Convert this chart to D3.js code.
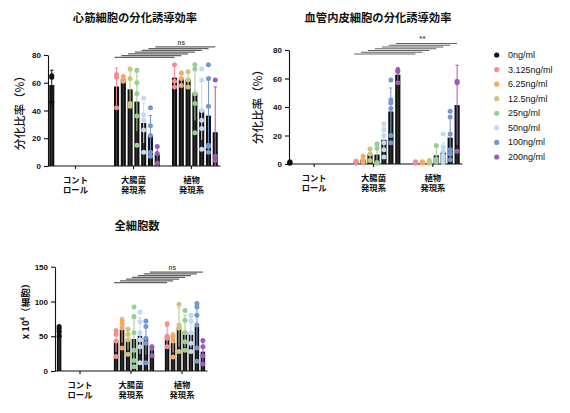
<!DOCTYPE html>
<html>
<head>
<meta charset="utf-8">
<script src="https://cdn.jsdelivr.net/npm/d3@7"></script>
<style>
  body { margin: 0; background: #fff; }
  svg { display: block; font-family: "Liberation Sans", Arial, sans-serif; }
  .jp { font-family: "Noto Sans CJK JP", "Noto Sans", sans-serif; }
</style>
</head>
<body>
<svg id="chart" width="570" height="413"></svg>
<script>
// concentrations (legend order) and their colours
const concs = ["0ng/ml", "3.125ng/ml", "6.25ng/ml", "12.5ng/ml", "25ng/ml", "50ng/ml", "100ng/ml", "200ng/ml"];
const concColors = ["#111111", "#F28E92", "#F7A866", "#C9C47E", "#95D192", "#C2D8F4", "#7397CF", "#9C5DB8"];

// x categories
const groupIds = ["control", "ecoli", "plant"];
const groupLabels = [["コント", "ロール"], ["大腸菌", "発現系"], ["植物", "発現系"]];

// 心筋細胞の分化誘導効率 (%) : individual points, control = 0ng/ml, others = 3.125 .. 200ng/ml
const cardioControl = [[65, 64, 46]];
const cardioEcoli = [[66, 64, 42], [64.5, 62, 61], [70, 63, 45, 43], [69, 60, 52, 36, 15],
  [49, 37, 33, 26, 10], [42, 29, 22, 10, 7], [14, 9, 2]];
const cardioPlant = [[73, 61, 57], [67, 63, 58], [68, 62, 57], [73, 70, 52, 45, 24],
  [70, 62, 40, 33, 27, 12], [73, 63, 43, 15, 14, 10], [62, 7, 4]];

// 血管内皮細胞の分化誘導効率 (%)
const endoControl = [[1.5, 1, 0.5]];
const endoEcoli = [[2, 1.5, 0.5], [5.5, 3, 1], [10.5, 7, 2.5], [14, 11, 1, 0.5],
  [28, 24, 20, 15, 10, 5], [59, 45, 43, 39, 20, 15], [66, 65, 57]];
const endoPlant = [[1.5, 1, 0.5], [1.5, 1, 0.5], [2.5, 1.5, 0.5], [13, 3.5, 1.5],
  [21, 12, 9, 6, 5, 3, 1], [37, 33, 21, 10, 7, 3], [58, 57, 9]];

// 全細胞数 (x 10^4)
const totalControl = [[64, 61, 57, 50]];
const totalEcoli = [[58, 53, 43, 21], [73, 68, 62, 33], [60, 53, 45, 24], [92, 78, 55, 30, 15, 6],
  [85, 71, 55, 45, 35, 12], [72, 64, 47, 40, 12], [35, 33, 22]];
const totalPlant = [[68, 50, 47, 35], [51, 49, 43, 20], [96, 66, 62, 28], [87, 73, 55, 42, 30],
  [80, 72, 55, 40, 28], [97, 92, 80, 66, 33, 14], [44, 35, 22, 10]];

const cardioTicks = [0, 20, 40, 60, 80];
const endoTicks = [0, 20, 40, 60, 80];
const totalTicks = [0, 50, 100, 150];

const svg = d3.select("#chart");

const panels = [
  {
    title: "心筋細胞の分化誘導効率", titleX: 135, titleY: 22,
    yLabel: "分化比率（%）", yLabelX: 21, yLabelY: 110,
    yAxisX: 48, xRange: [46.5, 220.5], yRange: [166, 55], yMax: 80, ticks: cardioTicks,
    series: [cardioControl, cardioEcoli, cardioPlant], sigAt: 78.3, sigText: "ns"
  },
  {
    title: "血管内皮細胞の分化誘導効率", titleX: 378, titleY: 22,
    yLabel: "分化比率（%）", yLabelX: 259, yLabelY: 104,
    yAxisX: 289, xRange: [284.5, 462.5], yRange: [164, 50], yMax: 80, ticks: endoTicks,
    series: [endoControl, endoEcoli, endoPlant], sigAt: 77.2, sigText: "**"
  },
  {
    title: "全細胞数", titleX: 137, titleY: 230,
    yLabel: null, yLabelX: 26, yLabelY: 309,
    yAxisX: 55, xRange: [54.5, 207.5], yRange: [371, 266.7], yMax: 150, ticks: totalTicks,
    series: [totalControl, totalEcoli, totalPlant], sigAt: 127, sigText: "ns"
  }
];

panels.forEach(drawPanel);
drawLegend();

function drawPanel(p) {
  const g = svg.append("g");

  const x0 = d3.scaleBand().domain(groupIds).range(p.xRange);
  const x1 = d3.scaleBand().domain(concs).range([0, x0.bandwidth()])
    .paddingInner(0.25).paddingOuter(0.4);
  const y = d3.scaleLinear().domain([0, p.yMax]).range(p.yRange);
  const xPos = (gi, ci) => x0(groupIds[gi]) + x1(concs[ci]) + x1.bandwidth() / 2;
  const bw = x1.bandwidth();

  // one record per bar
  const recs = [];
  p.series.forEach((groupData, gi) => {
    groupData.forEach((pts, k) => {
      const ci = gi === 0 ? k : k + 1;
      recs.push({ gi, ci, pts, mean: d3.mean(pts), sd: d3.deviation(pts) || 0 });
    });
  });

  // axes
  const yAxis = g.append("g")
    .attr("transform", `translate(${p.yAxisX},0)`)
    .call(d3.axisLeft(y).tickValues(p.ticks).tickSize(4).tickSizeOuter(0).tickPadding(3));
  yAxis.selectAll("text")
    .attr("font-size", 8).attr("font-weight", "bold")
    .attr("font-family", "'Liberation Sans', Arial, sans-serif").attr("fill", "#111");
  yAxis.selectAll("line, path").attr("stroke", "#111").attr("stroke-width", 1.1);

  const xAxis = g.append("g")
    .attr("transform", `translate(0,${y(0)})`)
    .call(d3.axisBottom(x0).tickSize(3).tickFormat(""));
  xAxis.select(".domain").attr("d", `M${p.yAxisX},0H${p.xRange[1]}`);
  xAxis.selectAll("line, path").attr("stroke", "#111").attr("stroke-width", 1.1);

  // category labels, two lines each
  const lab = g.append("g").attr("class", "jp");
  groupIds.forEach((id, gi) => {
    const t = lab.append("text")
      .attr("x", x0(id) + x0.bandwidth() / 2)
      .attr("text-anchor", "middle")
      .attr("font-size", 8.3).attr("font-weight", "bold").attr("fill", "#111");
    groupLabels[gi].forEach((line, li) => {
      t.append("tspan")
        .attr("x", x0(id) + x0.bandwidth() / 2)
        .attr("y", y(0) + 16.8 + li * 10.6)
        .text(line);
    });
  });

  // bars
  g.selectAll("rect.bar").data(recs).enter().append("rect")
    .attr("class", "bar")
    .attr("x", d => xPos(d.gi, d.ci) - bw / 2)
    .attr("y", d => y(d.mean))
    .attr("width", bw)
    .attr("height", d => y(0) - y(d.mean))
    .attr("fill", "#111");

  g.selectAll("line.core").data(recs).enter().append("line")
    .attr("class", "core")
    .attr("x1", d => xPos(d.gi, d.ci)).attr("x2", d => xPos(d.gi, d.ci))
    .attr("y1", d => y(d.mean)).attr("y2", y(0))
    .attr("stroke", "#6a6a6a").attr("stroke-width", 0.5);

  // error bars (mean ± SD)
  const err = g.selectAll("g.err").data(recs).enter().append("g")
    .attr("class", "err")
    .attr("stroke", d => concColors[d.ci])
    .attr("stroke-width", 1);
  err.append("line")
    .attr("x1", d => xPos(d.gi, d.ci)).attr("x2", d => xPos(d.gi, d.ci))
    .attr("y1", d => y(Math.max(0, d.mean - d.sd)))
    .attr("y2", d => y(d.mean + d.sd));
  err.append("line")
    .attr("x1", d => xPos(d.gi, d.ci) - 1.7).attr("x2", d => xPos(d.gi, d.ci) + 1.7)
    .attr("y1", d => y(d.mean + d.sd)).attr("y2", d => y(d.mean + d.sd));

  // individual points
  const pts = recs.flatMap(d => d.pts.map(v => ({ gi: d.gi, ci: d.ci, v })));
  g.selectAll("circle.pt").data(pts).enter().append("circle")
    .attr("class", "pt")
    .attr("cx", d => xPos(d.gi, d.ci))
    .attr("cy", d => y(d.v))
    .attr("r", 2.5)
    .attr("fill", d => concColors[d.ci]);

  // significance staircase: each concentration, 大腸菌 vs 植物
  const sig = g.append("g").attr("stroke", "#626262").attr("stroke-width", 1.2);
  let topY = 0, topMid = 0;
  for (let ci = 1; ci < concs.length; ci++) {
    const yy = y(p.sigAt) - (ci - 1) * 1.75;
    const xa = xPos(1, ci) - 2, xb = xPos(2, ci);
    sig.append("line").attr("x1", xa).attr("x2", xb).attr("y1", yy).attr("y2", yy);
    topY = yy; topMid = (xa + xb) / 2;
  }
  g.append("text")
    .attr("x", topMid - 4).attr("y", topY - 2)
    .attr("text-anchor", "middle")
    .attr("font-size", p.sigText === "**" ? 8 : 6.5)
    .attr("font-weight", "bold")
    .attr("fill", "#555")
    .text(p.sigText);

  // title
  g.append("text").attr("class", "jp")
    .attr("x", p.titleX).attr("y", p.titleY)
    .attr("text-anchor", "middle")
    .attr("font-size", 11.3).attr("font-weight", "bold").attr("fill", "#111")
    .text(p.title);

  // y label
  const yl = g.append("text").attr("class", "jp")
    .attr("transform", `translate(${p.yLabelX},${p.yLabelY}) rotate(-90)`)
    .attr("text-anchor", "middle")
    .attr("dominant-baseline", "middle")
    .attr("fill", "#111");
  if (p.yLabel) {
    yl.attr("font-size", 11.5).attr("font-weight", 500).text(p.yLabel);
  } else {
    yl.attr("font-size", 9.5).attr("font-weight", "bold");
    yl.append("tspan").text("x 10");
    yl.append("tspan").attr("font-size", 6).attr("dy", -3.5).text("4");
    yl.append("tspan").attr("dy", 3.5).text("（細胞）");
  }
}

function drawLegend() {
  const row = d3.scalePoint().domain(concs).range([55, 157]);
  const lg = svg.append("g");
  const items = lg.selectAll("g").data(concs).enter().append("g")
    .attr("transform", d => `translate(0,${row(d)})`);
  items.append("circle")
    .attr("cx", 496.7).attr("cy", 0).attr("r", 2.6)
    .attr("fill", (d, i) => concColors[i]);
  items.append("text")
    .attr("x", 508).attr("y", 0)
    .attr("dominant-baseline", "central")
    .attr("font-size", 9).attr("fill", "#111")
    .text(d => d);
}
</script>
</body>
</html>
